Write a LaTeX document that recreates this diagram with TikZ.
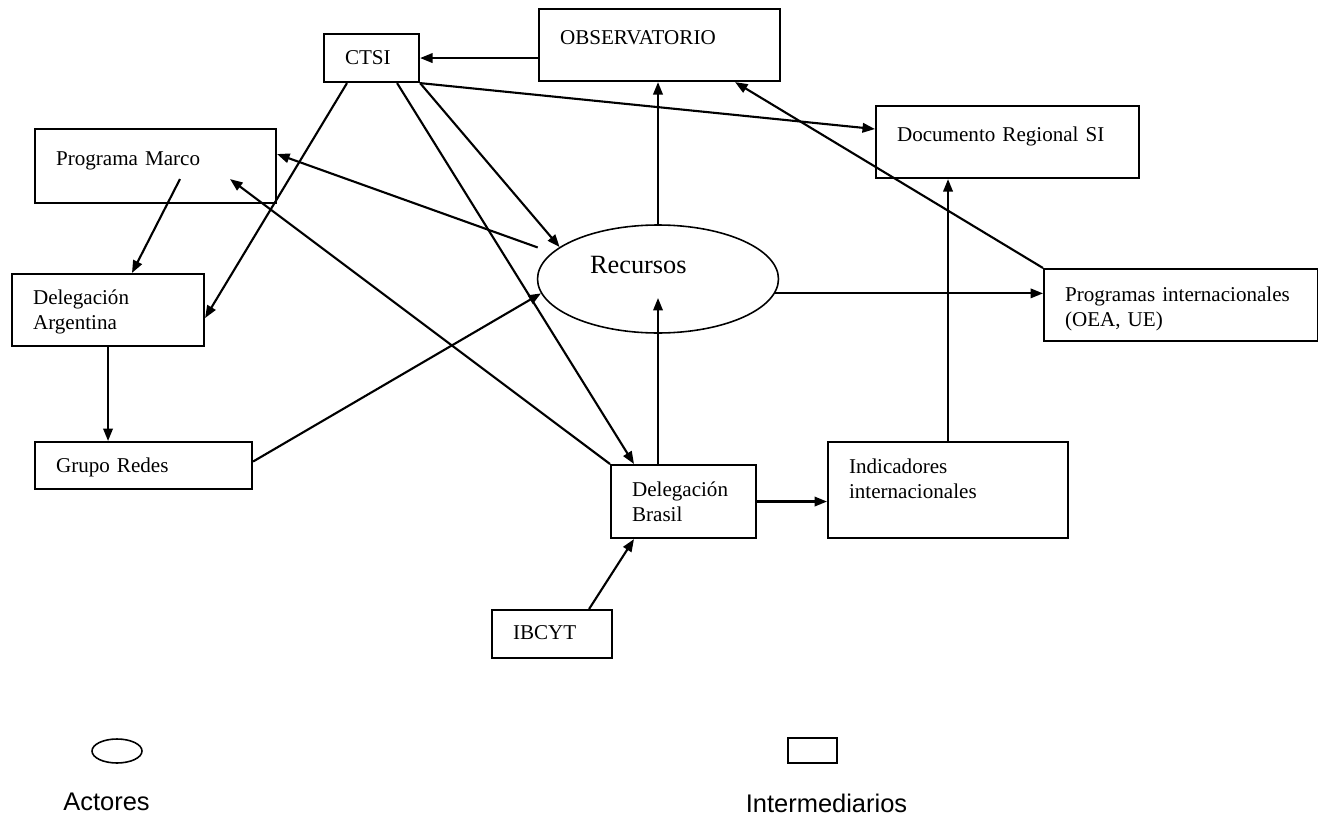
\documentclass[tikz,border=0pt]{standalone}
\usepackage{fontspec}
\setmainfont{Liberation Serif}
\newfontfamily\legendfont{Liberation Sans}
\usepackage{tikz}
\usetikzlibrary{shapes.geometric, arrows.meta, calc}

\begin{document}
\begin{tikzpicture}[
  x=0.02cm, y=-0.02cm,
  box/.style={rectangle, draw, line width=1.2pt, anchor=north west, align=left, inner xsep=0.42cm, inner ysep=0pt, font=\fontsize{12}{14.5}\selectfont},
  actor/.style={ellipse, draw, line width=0.9pt, inner sep=0pt},
  legendtext/.style={font=\legendfont\fontsize{14.5}{17}\selectfont},
  arrow/.style={line width=1.2pt, -{Triangle[length=2.5mm, width=1.9mm]}}
]
\useasboundingbox (0,0) rectangle (1318,818);

% Nodes
\node (ctsi) [box, text width=1.06cm, text height=0.6cm, text depth=0.36cm] at (323,33) {CTSI};
\node (obs) [box, text width=3.98cm, text height=0.7cm, text depth=0.74cm] at (538,8) {OBSERVATORIO};
\node (marco) [box, text width=3.98cm, text height=0.72cm, text depth=0.76cm] at (34,128) {Programa Marco};
\node (arg) [box, text width=3.0cm, text height=0.6cm, text depth=0.84cm] at (11,273) {Delegación\\Argentina};
\node (redes) [box, text width=3.5cm, text height=0.6cm, text depth=0.34cm] at (34,441) {Grupo Redes};
\node (doc) [box, text width=4.42cm, text height=0.7cm, text depth=0.74cm] at (875,105) {Documento Regional SI};
\node (progint) [box, text width=4.64cm, text height=0.64cm, text depth=0.8cm] at (1043,268) {Programas internacionales\\(OEA, UE)};
\node (ind) [box, text width=3.96cm, text height=0.62cm, text depth=1.3cm] at (827,441) {Indicadores\\internacionales};
\node (brasil) [box, text width=2.06cm, text height=0.62cm, text depth=0.84cm] at (610,464) {Delegación\\Brasil};
\node (ibcyt) [box, text width=1.56cm, text height=0.58cm, text depth=0.38cm] at (491,609) {IBCYT};
\node (rec) [actor, minimum width=4.82cm, minimum height=2.16cm, text width=2.72cm, align=left, text height=0.4cm, text depth=0.64cm, font=\fontsize{15}{18}\selectfont] at (658,279) {Recursos};

% Legend
\node (legactor) [actor, minimum width=1cm, minimum height=0.48cm] at (117,751) {};
\node (legactortxt) [legendtext] at (106.5,802) {Actores};
\node (leginter) [rectangle, draw, line width=0.9pt, minimum width=0.98cm, minimum height=0.5cm, inner sep=0pt] at (812.5,750.5) {};
\node (legintertxt) [legendtext] at (826.5,803) {Intermediarios};

% Arrows
\draw [arrow] (ctsi.east -| obs.west) -- (ctsi.east);
\draw [arrow] (ctsi.south east) -- ([yshift=0.26cm]doc.west);
\draw [arrow] ([xshift=0.48cm]ctsi.south west) -- ([yshift=-0.16cm]arg.east);
\draw [arrow] ([xshift=-0.46cm]ctsi.south east) -- ([xshift=0.48cm]brasil.north west);
\draw [arrow] (ctsi.south east) -- (rec.162);
\draw [arrow] (rec.north) -- (rec.north |- obs.south);
\draw [arrow, shorten <=0.3cm] (rec.166) -- ([yshift=0.24cm]marco.east);
\draw [arrow] (brasil.north west) -- ([xshift=-0.94cm, yshift=0.5cm]marco.south east);
\draw [arrow] ([yshift=0.08cm]redes.east) -- (rec.187);
\draw [arrow] ([xshift=2.92cm, yshift=0.5cm]marco.south west) -- ([xshift=2.42cm]arg.north west);
\draw [arrow] (arg.south) -- (arg.south |- redes.north);
\draw [arrow] (rec.center |- brasil.north) -- ([yshift=-0.38cm]rec.center);
\draw [arrow] (rec.353) -- (rec.353 -| progint.west);
\draw [arrow] (progint.north west) -- ([xshift=-0.92cm]obs.south east);
\draw [arrow] (ind.north) -- (ind.north |- doc.south);
\draw [arrow] (brasil.east) -- (brasil.east -| ind.west);
\draw [arrow] ([xshift=-0.48cm]ibcyt.north east) -- ([xshift=0.48cm]brasil.south west);

\end{tikzpicture}
\end{document}
